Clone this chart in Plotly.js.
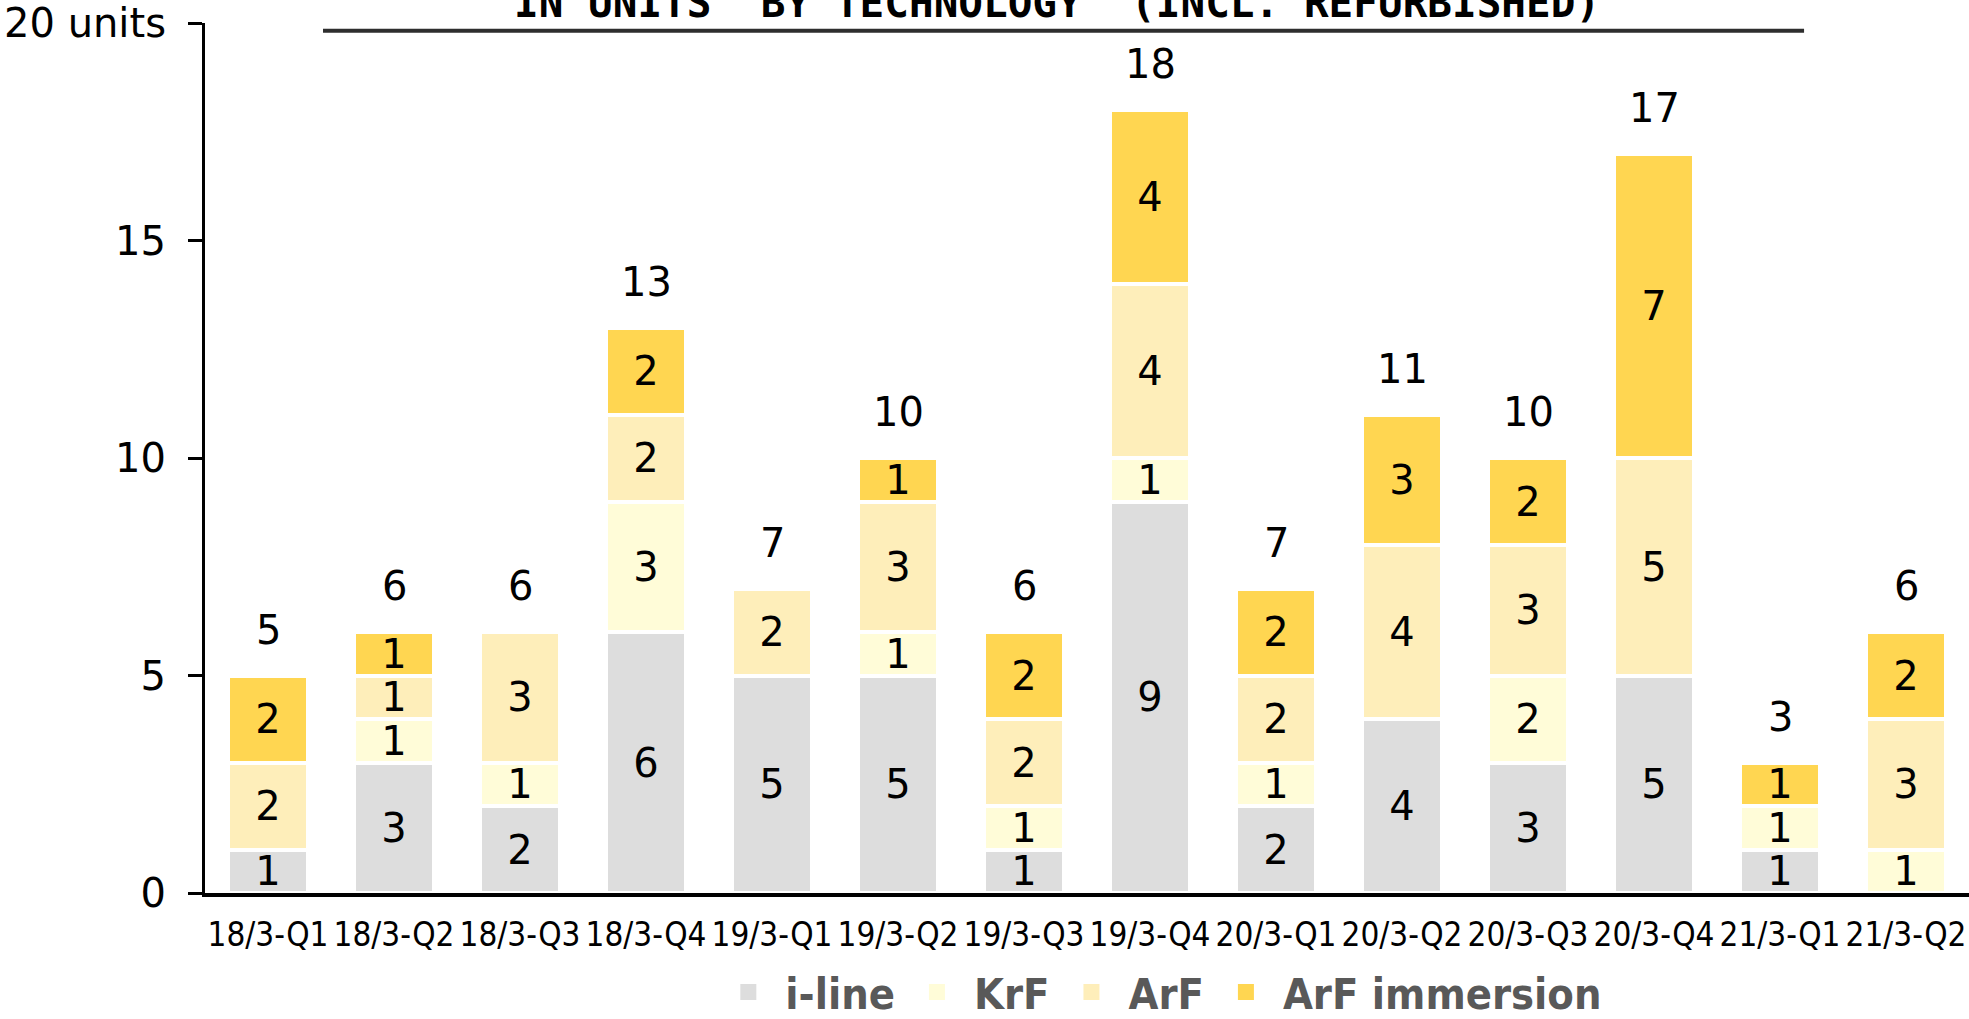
<!DOCTYPE html>
<html>
<head>
<meta charset="utf-8">
<script src="https://cdn.plot.ly/plotly-3.0.1.min.js"></script>
<style>html,body{margin:0;padding:0;background:#fff;}#chart{width:1969px;height:1019px;}</style>
</head>
<body>
<div id="chart"></div>
<script>
const categories = ["18/3-Q1","18/3-Q2","18/3-Q3","18/3-Q4","19/3-Q1","19/3-Q2","19/3-Q3","19/3-Q4","20/3-Q1","20/3-Q2","20/3-Q3","20/3-Q4","21/3-Q1","21/3-Q2"];
const iLine        = [1,3,2,6,5,5,1,9,2,4,3,5,1,0];
const krf          = [0,1,1,3,0,1,1,1,1,0,2,0,1,1];
const arf          = [2,1,3,2,2,3,2,4,2,4,3,5,0,3];
const arfImmersion = [2,1,0,2,0,1,2,4,2,3,2,7,1,2];
const seriesNames  = ["i-line","KrF","ArF","ArF immersion"];
const seriesColors = ["#DDDDDD","#FFFCD8","#FEEEBA","#FFD651"];
const yTickVals = [0,5,10,15,20];
const yTickText = ["0","5","10","15","20 units"];
const titleText = "IN UNITS\u00a0 BY TECHNOLOGY\u00a0 (INCL. REFURBISHED)";

const seriesValues = [iLine, krf, arf, arfImmersion];
const totals = categories.map((c, i) => seriesValues.reduce((s, arr) => s + arr[i], 0));

const labelFont = {family: "DejaVu Sans, Verdana, sans-serif", size: 40, color: "#000"};

const traces = seriesValues.map((vals, k) => ({
  type: "bar",
  name: seriesNames[k],
  x: categories,
  y: vals,
  text: vals.map(v => v === 0 ? "" : String(v)),
  textposition: "inside",
  insidetextanchor: "middle",
  textangle: 0,
  constraintext: "none",
  insidetextfont: labelFont,
  marker: {color: seriesColors[k], line: {color: "#ffffff", width: 4}},
  showlegend: false,
  hoverinfo: "skip"
}));

seriesNames.forEach((n, k) => {
  traces.push({
    type: "scatter", mode: "markers", name: n,
    x: [null], y: [null],
    marker: {symbol: "square", size: 16, color: seriesColors[k]},
    showlegend: true, hoverinfo: "skip"
  });
});

const annotations = categories.map((c, i) => ({
  x: c, y: totals[i], xref: "x", yref: "y",
  text: String(totals[i]), showarrow: false,
  yanchor: "bottom", yshift: 21,
  font: labelFont
}));
annotations.push({
  xref: "paper", yref: "paper", x: 0.483, y: 1.023,
  xanchor: "center", yanchor: "middle",
  text: titleText, showarrow: false,
  font: {family: "DejaVu Sans Mono, monospace", size: 41, color: "#000", weight: "bold"}
});

const layout = {
  width: 1969, height: 1019,
  margin: {l: 205, r: 0, t: 23, b: 126, pad: 0, autoexpand: false},
  paper_bgcolor: "#fff", plot_bgcolor: "#fff",
  barmode: "stack",
  bargap: 0.37,
  showlegend: true,
  legend: {
    orientation: "h", x: 0.541, xanchor: "center", y: -0.1138, yanchor: "middle",
    font: {family: "DejaVu Sans Condensed, DejaVu Sans, sans-serif", size: 43, color: "#595959", weight: "bold"},
    itemwidth: 64, traceorder: "normal", bgcolor: "rgba(0,0,0,0)"
  },
  xaxis: {
    type: "category", range: [-0.5, 13.5],
    showline: true, linecolor: "#000", linewidth: 4,
    ticks: "", showgrid: false, zeroline: false,
    tickfont: {family: "DejaVu Sans Condensed, DejaVu Sans, sans-serif", size: 33, color: "#000"},
    ticklabelstandoff: 9, fixedrange: true, automargin: false
  },
  yaxis: {
    range: [0, 20], tickvals: yTickVals, ticktext: yTickText,
    showline: true, linecolor: "#000", linewidth: 3,
    ticks: "outside", ticklen: 14, tickwidth: 3, tickcolor: "#000",
    showgrid: false, zeroline: false,
    tickfont: {family: "DejaVu Sans, Verdana, sans-serif", size: 40, color: "#000"},
    ticklabelstandoff: 14, fixedrange: true, automargin: false
  },
  annotations: annotations,
  shapes: [{
    type: "line", xref: "paper", yref: "paper",
    x0: 0.0669, x1: 0.9065, y0: 0.991, y1: 0.991,
    line: {color: "#2e2e2e", width: 4}
  }]
};

Plotly.newPlot("chart", traces, layout, {displayModeBar: false, staticPlot: true});
</script>
</body>
</html>
